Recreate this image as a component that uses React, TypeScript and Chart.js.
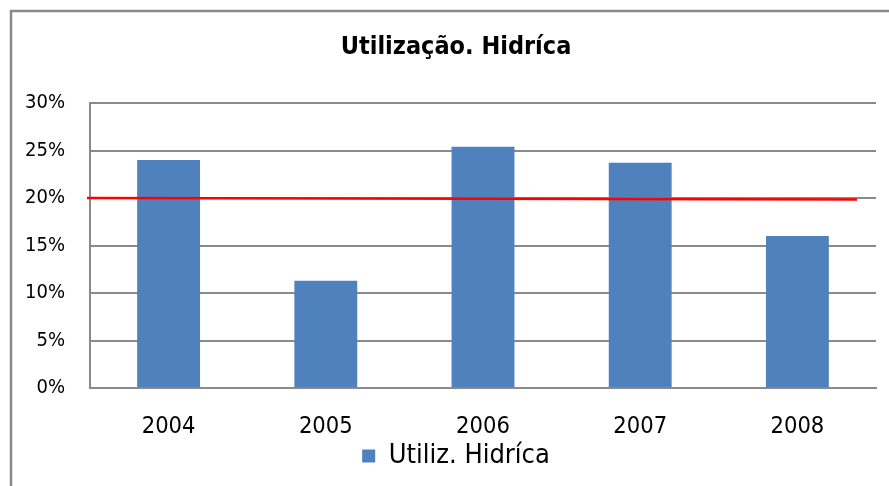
import React, { useEffect, useRef } from "react";
import { Chart, registerables } from "chart.js";

Chart.register(...registerables);

const categories = ["2004", "2005", "2006", "2007", "2008"];
const utilizValues = [24.0, 11.3, 25.4, 23.7, 16.0];
const refLineValues = [20.0, 19.85];
const seriesLabel = "Utiliz. Hidríca";
const titleText = "Utilização. Hidríca";

const FONT = "'DejaVu Sans Condensed', 'Liberation Sans', sans-serif";

const framePlugin = {
  id: "frame",
  beforeDraw(chart: any) {
    const ctx = chart.ctx;
    ctx.save();
    ctx.fillStyle = "#ffffff";
    ctx.fillRect(0, 0, chart.width, chart.height);
    ctx.strokeStyle = "#8a8a8a";
    ctx.lineWidth = 2.5;
    ctx.beginPath();
    ctx.moveTo(11, chart.height + 5);
    ctx.lineTo(11, 11);
    ctx.lineTo(chart.width + 5, 11);
    ctx.stroke();
    ctx.restore();
  },
};

const refLinePlugin = {
  id: "refLine",
  afterDatasetsDraw(chart: any) {
    const { ctx, chartArea, scales } = chart;
    const y = scales.y;
    ctx.save();
    ctx.strokeStyle = "#ff0000";
    ctx.lineWidth = 2.5;
    ctx.beginPath();
    ctx.moveTo(chartArea.left - 3, y.getPixelForValue(refLineValues[0]));
    ctx.lineTo(chartArea.right - 19, y.getPixelForValue(refLineValues[1]));
    ctx.stroke();
    ctx.restore();
  },
};

export default function App() {
  const ref = useRef<HTMLCanvasElement | null>(null);
  useEffect(() => {
    document.body.style.margin = "0";
    const canvas = ref.current!;
    const chart = new Chart(canvas, {
      type: "bar",
      data: {
        labels: categories,
        datasets: [
          {
            label: seriesLabel,
            data: utilizValues,
            backgroundColor: "#4f81bd",
            borderWidth: 0,
            barPercentage: 0.4,
            categoryPercentage: 1,
          },
        ],
      },
      options: {
        animation: false,
        responsive: false,
        devicePixelRatio: 1,
        layout: { padding: { left: 25, right: 2, top: 10, bottom: 6.5 } },
        plugins: {
          title: {
            display: true,
            text: titleText,
            color: "#000",
            font: { family: FONT, size: 25, weight: "bold" },
            padding: { top: 22, bottom: 41 },
          },
          legend: {
            position: "bottom",
            labels: {
              color: "#000",
              font: { family: FONT, size: 27 },
              boxWidth: 13,
              boxHeight: 13,
              padding: 6,
            },
          },
          tooltip: { enabled: false },
        },
        scales: {
          x: {
            afterFit(scale: any) {
              scale.height = 48.5;
            },
            grid: { display: false, drawTicks: false },
            border: { display: true, color: "#8a8a8a", width: 2 },
            ticks: {
              color: "#000",
              font: { family: FONT, size: 23.5 },
              padding: 24.9,
            },
          },
          y: {
            min: 0,
            max: 30,
            afterFit(scale: any) {
              scale.width = 65;
            },
            grid: { color: "#8a8a8a", lineWidth: 2, drawTicks: false },
            border: { display: true, color: "#8a8a8a", width: 2 },
            ticks: {
              stepSize: 5,
              color: "#000",
              font: { family: FONT, size: 20 },
              padding: 25,
              callback: (v: any) => v + "%",
            },
          },
          yRight: {
            type: "linear",
            position: "right",
            min: 0,
            max: 30,
            afterFit(scale: any) {
              scale.width = 11;
            },
            grid: { display: false, drawTicks: false },
            border: { display: false },
            ticks: { display: false },
          },
        },
      },
      plugins: [framePlugin, refLinePlugin],
    });
    return () => chart.destroy();
  }, []);
  return <canvas ref={ref} width={889} height={486} style={{ display: "block" }} />;
}
